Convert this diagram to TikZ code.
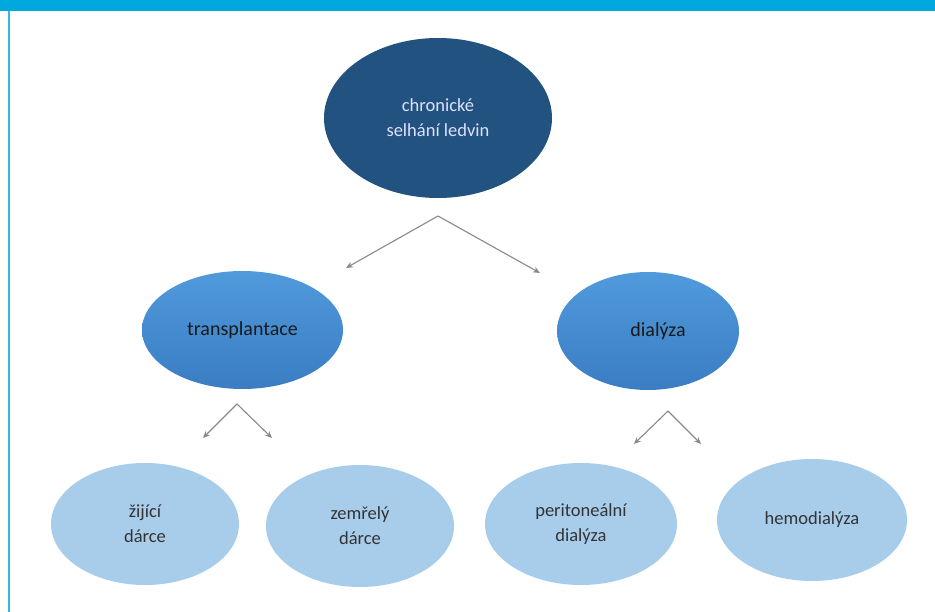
\documentclass[tikz,border=0pt]{standalone}
\usepackage{fontspec}
\setmainfont{Carlito}
\usetikzlibrary{shapes.geometric,arrows.meta}
\definecolor{headcyan}{HTML}{00A9DD}
\definecolor{darkblue}{HTML}{22527F}
\definecolor{midblueT}{HTML}{509ADC}
\definecolor{midblueB}{HTML}{3A7DC2}
\definecolor{lightblue}{HTML}{A8CDEA}
\definecolor{arrowgray}{HTML}{8C8888}
\tikzset{
  lvlone/.style={ellipse, fill=darkblue, inner sep=0pt, minimum width=228pt, minimum height=160pt,
     text=white!88!blue, font=\fontsize{18.5}{25}\selectfont, align=center},
  lvltwo/.style={ellipse, top color=midblueT, bottom color=midblueB, inner sep=0pt,
     text=black!90, font=\fontsize{20}{25}\selectfont, align=center},
  lvlthree/.style={ellipse, fill=lightblue, inner sep=0pt, minimum width=188pt, minimum height=122pt,
     text=black!80, font=\fontsize{18.5}{25}\selectfont, align=center},
  conn/.style={draw=arrowgray, line width=1.1pt, -{Stealth[length=7pt,width=6pt]}}
}
\begin{document}
\begin{tikzpicture}[x=1pt,y=-1pt]
\useasboundingbox (0,0) rectangle (935,612);
\fill[white] (0,0) rectangle (935,612);
% header and frame
\fill[headcyan] (0,0) rectangle (935,11);
\fill[headcyan!80] (8,11) rectangle (9.6,612);
% nodes
\node[lvlone] (root) at (438,118) {chronické\\selhání ledvin};
\node[lvltwo, minimum width=201pt, minimum height=118pt] (tx) at (242.5,330) {transplantace};
\node[lvltwo, minimum width=182pt, minimum height=118pt] (dia) at (648,331) {\hspace*{20pt}dialýza};
\node[lvlthree] (zij) at (145,524) {žijící\\dárce};
\node[lvlthree] (zem) at (360,526) {zemřelý\\dárce};
\node[lvlthree, minimum width=192pt] (per) at (581,524) {peritoneální\\dialýza};
\node[lvlthree, minimum width=190pt] (hem) at (812,520) {hemodialýza};
% arrow coordinates
\coordinate (a0) at (438,216);
\coordinate (a0l) at (346,268);
\coordinate (a0r) at (540,273);
\coordinate (a1) at (237,404);
\coordinate (a1l) at (203,438);
\coordinate (a1r) at (272,438);
\coordinate (a2) at (668,411);
\coordinate (a2l) at (634,444);
\coordinate (a2r) at (701,444);
\draw[conn] (a0) -- (a0l);
\draw[conn] (a0) -- (a0r);
\draw[conn] (a1) -- (a1l);
\draw[conn] (a1) -- (a1r);
\draw[conn] (a2) -- (a2l);
\draw[conn] (a2) -- (a2r);
\end{tikzpicture}
\end{document}
